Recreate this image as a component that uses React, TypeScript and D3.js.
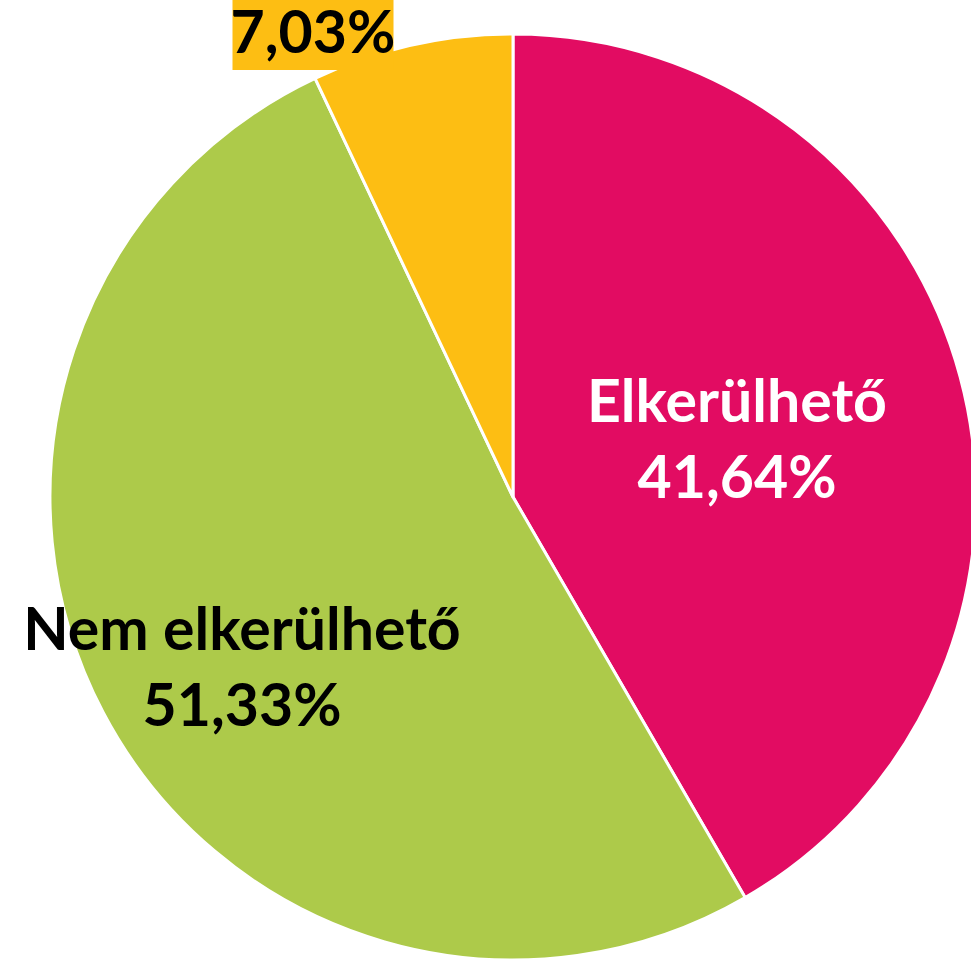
import React from "react";
import * as d3 from "d3";

const categories = ["Elkerülhető", "Nem elkerülhető", ""];
const values = [41.64, 51.33, 7.03];
const valueLabels = ["41,64%", "51,33%", "7,03%"];
const colors = ["#E20C62", "#ADCA4A", "#FDBE13"];

const W = 971;
const H = 960;
const CX = 513;
const CY = 497;
const R = 463;
const FONT = "Lato, 'Open Sans', sans-serif";
const FS = 59;
const LINE = 76;

// label anchor (centre x, first baseline y) relative to pie centre (layout)
const labelOffsets: [number, number][] = [
  [224, -75],
  [-271, 153],
  [-200, -444],
];
const textColors = ["#ffffff", "#000000", "#000000"];

export default function App() {
  const pie = d3.pie<number>().sort(null).value((d) => d)(values);
  const arc = d3.arc<d3.PieArcDatum<number>>().innerRadius(0).outerRadius(R);
  return (
    <svg
      width={W}
      height={H}
      style={{ position: "absolute", left: 0, top: 0 }}
      fontFamily={FONT}
      fontWeight="bold"
    >
      <g transform={`translate(${CX},${CY})`}>
        {pie.map((p, i) => (
          <path key={i} d={arc(p) || ""} fill={colors[i]} stroke="#fff" strokeWidth={3} />
        ))}
        {pie.map((p, i) => {
          const [dx, by] = labelOffsets[i];
          const hasCat = categories[i] !== "";
          if (!hasCat) {
            const bw = 161;
            return (
              <g key={"l" + i}>
                <rect x={dx - bw / 2} y={by - 60} width={bw} height={77} fill={colors[i]} />
                <text x={dx} y={by} textAnchor="middle" fontSize={FS} fill={textColors[i]}>
                  {valueLabels[i]}
                </text>
              </g>
            );
          }
          return (
            <text key={"l" + i} textAnchor="middle" fontSize={FS} fill={textColors[i]}>
              <tspan x={dx} y={by}>{categories[i]}</tspan>
              <tspan x={dx} y={by + LINE}>{valueLabels[i]}</tspan>
            </text>
          );
        })}
      </g>
    </svg>
  );
}
